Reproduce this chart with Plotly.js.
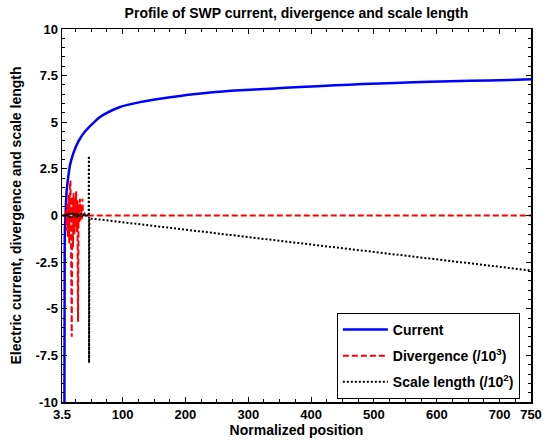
<!DOCTYPE html>
<html>
<head>
<meta charset="utf-8">
<script src="https://cdn.plot.ly/plotly-3.0.1.min.js"></script>
<style>html,body{margin:0;padding:0;background:#fff;}#chart{width:552px;height:441px;}</style>
</head>
<body>
<div id="chart"></div>
<script>
// Current
const currentX = [7.3, 7.8, 8.3, 9.4, 11.0, 13.5, 16.2, 21.5, 29.4, 40.1, 56.0, 64.0, 72.0, 95.8, 127.7, 159.5, 191.3, 239.1, 286.8, 334.6, 382.4, 438.1, 482.7, 533.6, 589.3, 653.0, 716.7, 750];
const currentY = [-10.5, -1.8, -0.6, 0.29, 1.37, 2.08, 2.7, 3.33, 3.96, 4.5, 5.05, 5.28, 5.45, 5.82, 6.08, 6.26, 6.41, 6.59, 6.71, 6.80, 6.89, 6.98, 7.05, 7.11, 7.17, 7.22, 7.27, 7.3];
// Divergence (/10^3)
const divX = [4, 9, 10, 11, 12, 13, 14, 15, 16, 17, 18, 19, 20, 21, 22, 23, 24, 25, 26, 27, 28, 29, 30, 31, 32, 33, 34, 35, 36, 37, 39, 41, 43, 45, 47, 50, 750];
const divY = [0, 0, 0.3, -0.8, 0.6, -1.2, 1.1, -1.5, 1.6, 1.87, -2.0, -6.5, 1.0, -1.7, 1.2, -1.0, 0.9, -0.6, 1.3, -0.9, 0.8, -5.7, 0.6, -0.4, 0.9, -0.3, 0.5, -0.2, 0.9, 0, 0.1, 0, 0.05, 0, 0, 0, 0];
// Scale length (/10^2)
const scaleX = [5, 8, 10, 12, 14, 16, 18, 20, 22, 24, 26, 28, 30, 32, 34, 36, 38, 40, 42, 44, 46, 46.3, 46.6, 47, 750];
const scaleY = [0.05, -0.1, 0.12, -0.08, 0.15, -0.1, 0.1, -0.12, 0.14, -0.06, 0.12, -0.1, 0.1, -0.08, 0.12, -0.05, 0.1, -0.08, 0.1, -0.05, 0.05, 3.2, -7.9, -0.15, -2.95];
// Tick labels
const xTickVals = [3.5, 100, 200, 300, 400, 500, 600, 700, 750];
const xTickText = ['3.5', '100', '200', '300', '400', '500', '600', '700', '750'];
const yTickVals = [-10, -7.5, -5, -2.5, 0, 2.5, 5, 7.5, 10];
const yTickText = ['-10', '-7.5', '-5', '-2.5', '0', '2.5', '5', '7.5', '10'];

const FONT = 'Liberation Sans, Arial, sans-serif';
const traces = [
  {x: currentX, y: currentY, type: 'scatter', mode: 'lines', name: 'Current', legendgroup: 'a',
   line: {color: '#0000ff', width: 2.5, shape: 'spline', smoothing: 0.8}},
  {x: divX, y: divY, type: 'scatter', mode: 'lines', name: 'Divergence (/10<sup>3</sup>)', legendgroup: 'b',
   line: {color: '#ff0000', width: 2, dash: '6px,3px'}},
  {x: scaleX, y: scaleY, type: 'scatter', mode: 'lines', name: 'Scale length (/10<sup>2</sup>)', legendgroup: 'c',
   line: {color: '#000000', width: 2, dash: '2px,2px'}}
];
const axisCommon = {
  showgrid: false, zeroline: false, showline: true, linecolor: '#000', linewidth: 1.5,
  mirror: 'ticks', ticks: 'inside', ticklen: 5, tickwidth: 1, tickcolor: '#000',
  tickfont: {family: FONT, size: 13, color: '#000', weight: 'bold'}
};
const layout = {
  width: 552, height: 441,
  margin: {l: 62, r: 21, t: 29, b: 39},
  paper_bgcolor: '#fff', plot_bgcolor: '#fff',
  showlegend: true,
  title: {text: 'Profile of SWP current, divergence and scale length',
    font: {family: FONT, size: 14, color: '#000', weight: 'bold'},
    x: 0.537, xanchor: 'center', y: 0.97, yanchor: 'middle', yref: 'container'},
  xaxis: Object.assign({}, axisCommon, {
    range: [3.5, 750], tickmode: 'array', tickvals: xTickVals, ticktext: xTickText,
    minor: {tickmode: 'linear', tick0: 0, dtick: 25, ticklen: 3, ticks: 'inside', tickcolor: '#000'},
    title: {text: 'Normalized position', font: {family: FONT, size: 14, color: '#000', weight: 'bold'}, standoff: 2}
  }),
  yaxis: Object.assign({}, axisCommon, {
    range: [-10, 10], tickmode: 'array', tickvals: yTickVals, ticktext: yTickText,
    minor: {tickmode: 'linear', tick0: 0, dtick: 0.5, ticklen: 3, ticks: 'inside', tickcolor: '#000'},
    title: {text: 'Electric current, divergence and scale length', font: {family: FONT, size: 14, color: '#000', weight: 'bold'}, standoff: 10}
  }),
  legend: {x: 0.586, y: 0.239, xanchor: 'left', yanchor: 'top',
    bgcolor: '#fff', bordercolor: '#000', borderwidth: 1,
    font: {family: FONT, size: 14, color: '#000', weight: 'bold'},
    itemwidth: 45, traceorder: 'grouped', tracegroupgap: 5}
};
Plotly.newPlot('chart', traces, layout, {displayModeBar: false, staticPlot: true});
</script>
</body>
</html>
